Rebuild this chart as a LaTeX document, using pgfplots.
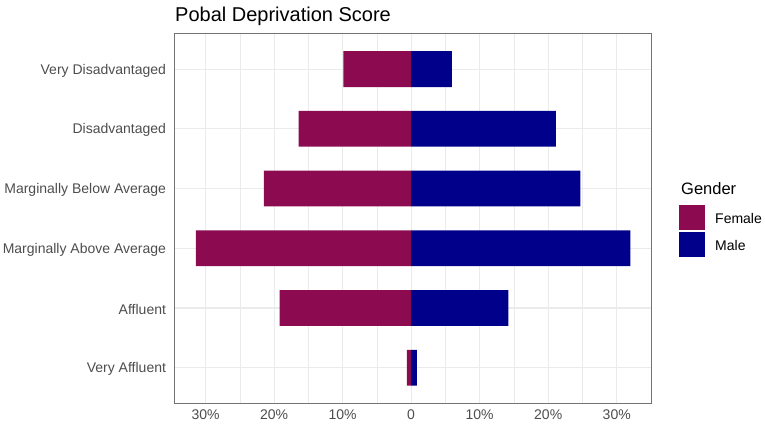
\documentclass[border=0pt]{standalone}
\usepackage{pgfplots}
\pgfplotsset{compat=1.18}
\usepackage{fontspec}
\setmainfont{Liberation Sans}
\definecolor{fem}{HTML}{8B0A50}
\definecolor{mal}{HTML}{00008B}
\definecolor{gridc}{HTML}{EBEBEB}
\definecolor{tickc}{HTML}{4D4D4D}
\begin{document}
\begin{tikzpicture}
\path[use as bounding box] (0,0) rectangle (765pt,428pt);
\begin{axis}[
  at={(174pt,24.5pt)}, anchor=south west,
  scale only axis, width=477.7pt, height=370.2pt,
  xmin=-34.6, xmax=35.1, ymin=0.4, ymax=6.6,
  xtick={-30,-20,-10,0,10,20,30},
  xticklabels={30\%,20\%,10\%,0,10\%,20\%,30\%},
  minor xtick={-25,-15,-5,5,15,25},
  ytick={1,2,3,4,5,6},
  yticklabels={Very Affluent,Affluent,Marginally Above Average,Marginally Below Average,Disadvantaged,Very Disadvantaged},
  major tick length=0pt, minor tick length=0pt,
  xmajorgrids, ymajorgrids, xminorgrids,
  major grid style={color=gridc, line width=1.1pt},
  minor grid style={color=gridc, line width=0.55pt},
  axis line style={color=black!55, line width=0.9pt},
  ticklabel style={font=\fontsize{14}{16}\selectfont, text=tickc},
  xticklabel style={yshift=-3pt},
  yticklabel style={xshift=-4.5pt, yshift=-1.5pt},
  /pgf/number format/assume math mode=true,
  xbar, bar shift=0pt, bar width=0.6,
]
\addplot[fill=fem, draw=none] coordinates {
 (-0.63,1) (-19.2,2) (-31.4,3) (-21.5,4) (-16.4,5) (-9.87,6)};
\addplot[fill=mal, draw=none] coordinates {
 (0.83,1) (14.2,2) (32.0,3) (24.7,4) (21.1,5) (5.93,6)};
\end{axis}
\node[anchor=base west, inner sep=0pt, font=\fontsize{20}{24}\selectfont] at (175pt,406.5pt) {Pobal Deprivation Score};
\node[anchor=base west, inner sep=0pt, font=\fontsize{16.5}{20}\selectfont] at (681pt,233pt) {Gender};
\fill[fem] (678.5pt,198pt) rectangle (705pt,223pt);
\fill[mal] (678.5pt,170.7pt) rectangle (705pt,195.7pt);
\node[anchor=west, inner sep=0pt, font=\fontsize{14}{16}\selectfont] at (715pt,209.5pt) {Female};
\node[anchor=west, inner sep=0pt, font=\fontsize{14}{16}\selectfont] at (715pt,182.5pt) {Male};
\end{tikzpicture}
\end{document}
